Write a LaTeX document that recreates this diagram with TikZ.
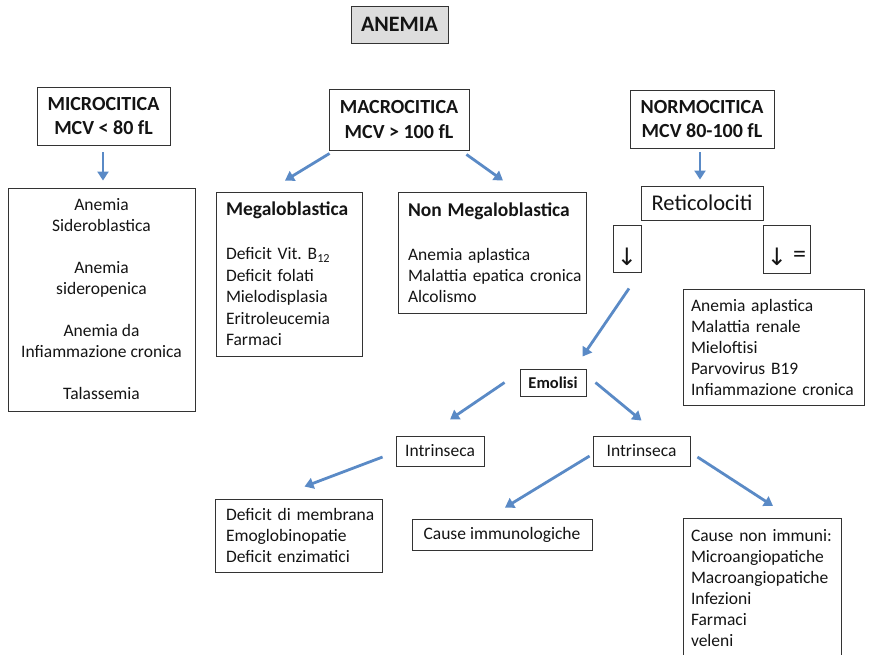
\documentclass[tikz,border=0pt]{standalone}
\usepackage{fontspec}
\setmainfont{Carlito}
\newfontfamily\symfont{DejaVu Sans}
\usetikzlibrary{arrows.meta,calc}
\definecolor{arrblue}{HTML}{5A8AC6}
\definecolor{boxline}{HTML}{333333}
\definecolor{txt}{HTML}{141414}
\definecolor{anemiafill}{HTML}{DDDDDD}
\newcommand\subheadfont{\fontsize{19.5}{21}\selectfont\bfseries}
\newcommand\dnglyph{{\symfont\fontsize{24}{24}\selectfont ↓}}
\newcommand\dnarrow{\vphantom{\dnglyph}\smash{\raisebox{-8pt}{\dnglyph}}}
\frenchspacing
\hyphenpenalty=10000
\exhyphenpenalty=10000
\hfuzz=50pt
\begin{document}
\begin{tikzpicture}[x=1pt,y=-1pt,
  box/.style={draw=boxline, line width=0.9pt, inner sep=0pt, text=txt},
  head/.style={box, font=\fontsize{20}{24.5}\selectfont\bfseries, align=center},
  reg/.style={font=\fontsize{17.5}{21}\selectfont},
  lbox/.style={box, reg, align=left},
  arr/.style={draw=arrblue, line width=2.8pt, -{Triangle[length=9pt,width=11pt]}},
]
\useasboundingbox (0,0) rectangle (870,654);

\node[box, fill=anemiafill, minimum width=97pt, minimum height=37pt,
  font=\fontsize{22}{26}\selectfont\bfseries] (anemia) at (399.5,24.5) {ANEMIA};

\node[head, minimum width=133pt, minimum height=58pt] (micro) at (103.5,116) {MICROCITICA\\MCV < 80 fL};
\node[head, minimum width=140pt, minimum height=61pt] (macro) at (399,119.5) {MACROCITICA\\MCV > 100 fL};
\node[head, minimum width=144pt, minimum height=58pt] (normo) at (702,119) {NORMOCITICA\\MCV 80-100 fL};

\node[box, reg, align=center, minimum width=187pt, minimum height=223pt] (microlist) at (101.5,299.5)
  {Anemia\\Sideroblastica\\[21pt]Anemia\\sideropenica\\[21pt]Anemia da\\\mbox{Infiammazione cronica}\\[21pt]Talassemia};

\node[lbox, text width=126pt, minimum width=146pt, minimum height=164pt] (mega) at (289,274)
  {\mbox{\subheadfont Megaloblastica}\\[23pt]\mbox{Deficit Vit. B\textsubscript{12}}\\[0.5pt]\mbox{Deficit folati}\\[0.5pt]Mielodisplasia\\[0.5pt]Eritroleucemia\\[0.5pt]Farmaci};

\node[lbox, text width=168pt, minimum width=188pt, minimum height=121pt] (nonmega) at (492,252.5)
  {\mbox{\subheadfont Non Megaloblastica}\\[23pt]\mbox{Anemia aplastica}\\\mbox{Malattia epatica cronica}\\Alcolismo};

\node[box, font=\fontsize{22.5}{26}\selectfont, minimum width=122pt, minimum height=34pt] (retic) at (702,203) {Reticolociti};

\node[box, minimum width=28pt, minimum height=47pt] (downL) at (627,248.5) {\dnarrow};
\node[box, minimum width=47pt, minimum height=48pt, font=\fontsize{26}{28}\selectfont] (downR) at (786.5,249)
  {\dnarrow\hspace{6pt}\smash{\raisebox{-5pt}{=}}};

\node[lbox, text width=165pt, minimum width=181pt, minimum height=116pt] (rlist) at (773.5,347.5)
  {\mbox{Anemia aplastica}\\\mbox{Malattia renale}\\Mieloftisi\\\mbox{Parvovirus B19}\\\mbox{Infiammazione cronica}};

\node[box, font=\fontsize{16.5}{19}\selectfont\bfseries, minimum width=66pt, minimum height=27pt] (emolisi) at (553,382.5) {Emolisi};

\node[box, reg, minimum width=88pt, minimum height=30pt] (intrL) at (440,451) {Intrinseca};
\node[box, reg, minimum width=97pt, minimum height=30pt] (intrR) at (641.5,451) {Intrinseca};

\node[lbox, text width=145pt, minimum width=167pt, minimum height=73pt] (deficit) at (298.5,535.5)
  {\mbox{Deficit di membrana}\\Emoglobinopatie\\\mbox{Deficit enzimatici}};

\node[box, reg, minimum width=180pt, minimum height=31pt] (immun) at (502,534.5) {Cause immunologiche};

\node[lbox, text width=142pt, minimum width=158pt, inner ysep=11pt, anchor=north] (nonimm) at (762,518)
  {\mbox{Cause non immuni:}\\Microangiopatiche\\Macroangiopatiche\\Infezioni\\Farmaci\\veleni\\\mbox{}};

\draw[arr] ($(micro.south)+(-0.5,7)$) -- ($(micro.south |- microlist.north)+(-0.5,-7)$);
\draw[arr] ($(macro.south west)+(1,3)$) -- ($(mega.north)+(-4,-11)$);
\draw[arr] ($(macro.south east)+(-3,4)$) -- ($(nonmega.north)+(11,-11)$);
\draw[arr] ($(normo.south)+(-2,4)$) -- ($(normo.south |- retic.north)+(-2,-6)$);
\draw[arr] ($(downL.south)+(2,16)$) -- ($(emolisi.north east)+(-4,-12)$);
\draw[arr] ($(emolisi.west)+(-15,0)$) -- ($(intrL.north)+(10,-16)$);
\draw[arr] ($(emolisi.east)+(9,0)$) -- ($(intrR.north)+(0,-15)$);
\draw[arr] ($(intrL.west)+(-13,6)$) -- ($(deficit.north)+(6,-12)$);
\draw[arr] ($(intrR.west)+(-3,5)$) -- ($(immun.north)+(3,-11)$);
\draw[arr] ($(intrR.east)+(7,6)$) -- ($(nonimm.north)+(11,-12)$);
\end{tikzpicture}
\end{document}
